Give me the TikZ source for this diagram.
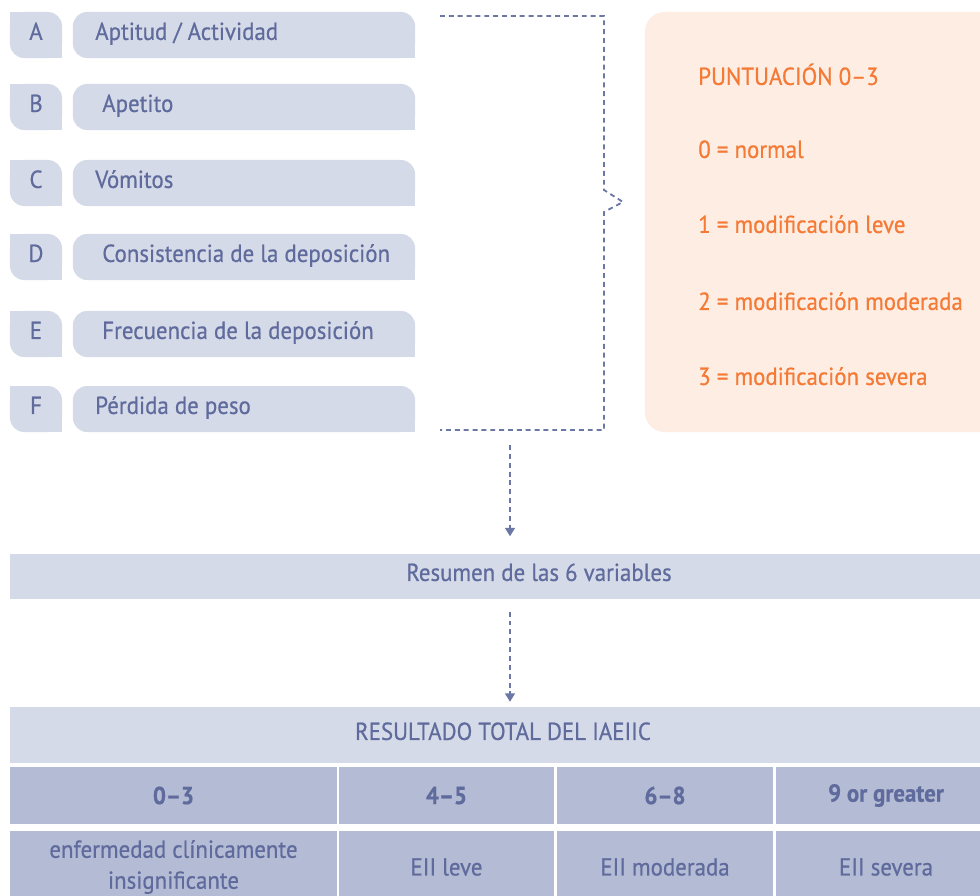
\documentclass[tikz,border=0pt]{standalone}
\usepackage{fontspec}
\setmainfont{PT Sans}[FakeStretch=0.93, FakeBold=0.6]
\usetikzlibrary{arrows.meta}
\definecolor{lilac}{HTML}{D5DAE8}
\definecolor{slate}{HTML}{B4BBD4}
\definecolor{ink}{HTML}{5F6B9C}
\definecolor{peach}{HTML}{FDEDE2}
\definecolor{tangerine}{HTML}{F47A36}
\definecolor{dashblue}{HTML}{6B77A5}
\begin{document}
\begin{tikzpicture}[x=0.025cm, y=-0.025cm, font=\fontsize{17.5}{21}\selectfont, text=ink,
    txt/.style={inner sep=0pt, text height=0.7em, text depth=0em},
    letter box/.style={txt, fill=lilac, rounded corners=10, minimum width=1.3cm, minimum height=1.15cm},
    item box/.style={fill=lilac, rounded corners=10, inner sep=0pt, minimum width=8.55cm, minimum height=1.15cm},
    bar/.style={txt, fill=lilac, outer sep=0pt},
    cell/.style={fill=slate, inner sep=0pt, outer sep=0pt, align=center},
    dashline/.style={dashblue, line width=1.3pt, dash pattern=on 3.5pt off 2.8pt},
    flow/.style={dashline, -{Triangle[width=7pt, length=6pt]}}]
    \useasboundingbox (0,0) rectangle (980,895);
    \clip (0,0) rectangle (980,895);

    % variables A-F
    \foreach \l/\ind/\txt/\y in {A/95/{Aptitud / Actividad}/35, B/102/Apetito/107, C/95/Vómitos/183,
        D/102/{Consistencia de la deposición}/257, E/102/{Frecuencia de la deposición}/334, F/95/{Pérdida de peso}/409} {
        \node[letter box] (\l) at (36,\y) {\l};
        \node[item box] (\l-item) at (244,\y) {};
        \fill[lilac] (\l.north west) rectangle ++(12,12);
        \fill[lilac] (\l.south east) rectangle ++(-12,-12);
        \fill[lilac] (\l-item.south east) rectangle ++(-12,-12);
        \node[txt, anchor=west] (\l-txt) at (\ind,\y) {\txt};
    }

    % scoring box
    \node[fill=peach, rounded corners=14, inner sep=0pt, minimum width=10cm, minimum height=10.5cm] (score) at (845,222) {};
    \node[txt, anchor=west, text=tangerine] (score-title) at (698,80) {PUNTUACIÓN 0–3};
    \foreach \n/\txt/\y in {0/normal/153, 1/modificación leve/228, 2/modificación moderada/305, 3/modificación severa/380}
        \node[txt, anchor=west, text=tangerine] (score-\n) at (698,\y) {\n{} = \txt};

    % bracket
    \coordinate (brk-top) at (440,16);
    \coordinate (brk-bot) at (440,430);
    \draw[dashline] (brk-top) -- (604,16) -- (604,190) -- (623,202) -- (604,212) -- (604,430) -- (brk-bot);

    % summary and result
    \node[bar, minimum width=26.45cm, minimum height=1.125cm] (sum) at (539,576) {Resumen de las 6 variables};
    \node[bar, minimum width=24.65cm, minimum height=1.4cm] (total) at (503,735) {RESULTADO TOTAL DEL IAEIIC};
    \foreach \c/\x/\w/\rng/\desc in {1/173.5/327/0–3/{enfermedad clínicamente\\insignificante}, 2/446.5/215/4–5/EII leve,
        3/665/216/6–8/EII moderada, 4/886/220/9 or greater/EII severa} {
        \node[cell, minimum width=\w*0.025cm, minimum height=1.425cm, font=\fontsize{17.5}{21}\selectfont\bfseries] (rng-\c) at (\x,795.5) {\rng};
        \node[cell, minimum width=\w*0.025cm, minimum height=1.8cm, font=\fontsize{17.5}{22}\selectfont] (desc-\c) at (\x,867) {\desc};
    }

    \coordinate (sum-in) at (510,445);
    \draw[flow, shorten >=0.43cm] (sum-in) -- (sum-in |- sum.north);
    \draw[flow, shorten <=0.33cm, shorten >=0.13cm] (sum.south -| sum-in) -- (total.north -| sum-in);
\end{tikzpicture}
\end{document}
